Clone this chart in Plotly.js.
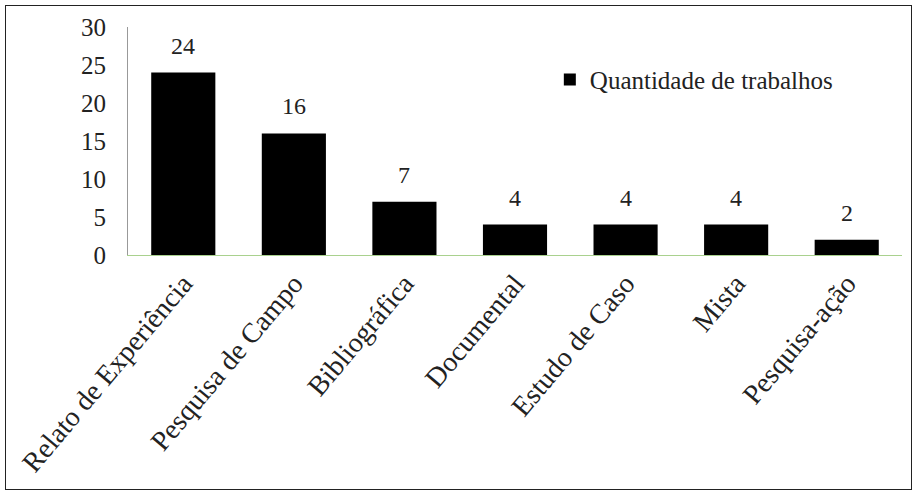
<!DOCTYPE html>
<html>
<head>
<meta charset="utf-8">
<script src="https://cdn.plot.ly/plotly-3.0.1.min.js"></script>
<style>
html,body{margin:0;padding:0;background:#fff;}
#wrap{position:relative;width:917px;height:495px;}
#chart{width:917px;height:495px;}
#frame{position:absolute;left:5px;top:5px;width:905px;height:483px;border:1px solid #222;pointer-events:none;}
</style>
</head>
<body>
<div id="wrap"><div id="chart"></div><div id="frame"></div></div>
<script>
const categories = ["Relato de Experiência","Pesquisa de Campo","Bibliográfica","Documental","Estudo de Caso","Mista","Pesquisa-ação"];
const values = [24,16,7,4,4,4,2];
const seriesName = "Quantidade de trabalhos";
const yTicks = [0,5,10,15,20,25,30];

const fam = "Liberation Serif";
const col = "#222";

const annotations = categories.map((c,i)=>({
  x:c, y:values[i], xref:"x", yref:"y", text:String(values[i]),
  showarrow:false, yanchor:"bottom", yshift:12,
  font:{family:fam, size:24, color:col}
}));

Plotly.newPlot("chart", [{
  type:"bar",
  x:categories,
  y:values,
  name:seriesName,
  marker:{color:"#000"},
  width:0.58,
  showlegend:true
}], {
  width:917, height:495,
  margin:{l:128, r:15, t:27, b:240},
  paper_bgcolor:"#fff", plot_bgcolor:"#fff",
  font:{family:fam, size:22, color:col},
  showlegend:true,
  annotations:annotations,
  legend:{x:0.545, y:0.87, xanchor:"left", yanchor:"top", font:{family:fam, size:25, color:col}, bgcolor:"rgba(0,0,0,0)", itemwidth:30},
  xaxis:{
    tickangle:-50, tickfont:{family:fam, size:28, color:col}, showline:true, linecolor:"#a9d18e", linewidth:1,
    showgrid:false, ticks:"", zeroline:false
  },
  yaxis:{
    range:[0,30], tickvals:yTicks, tickfont:{family:fam, size:25, color:col}, showline:true, linecolor:"#999", linewidth:1,
    showgrid:false, ticks:"", zeroline:false, ticklabelstandoff:16
  }
}, {displayModeBar:false, staticPlot:true});
</script>
</body>
</html>
